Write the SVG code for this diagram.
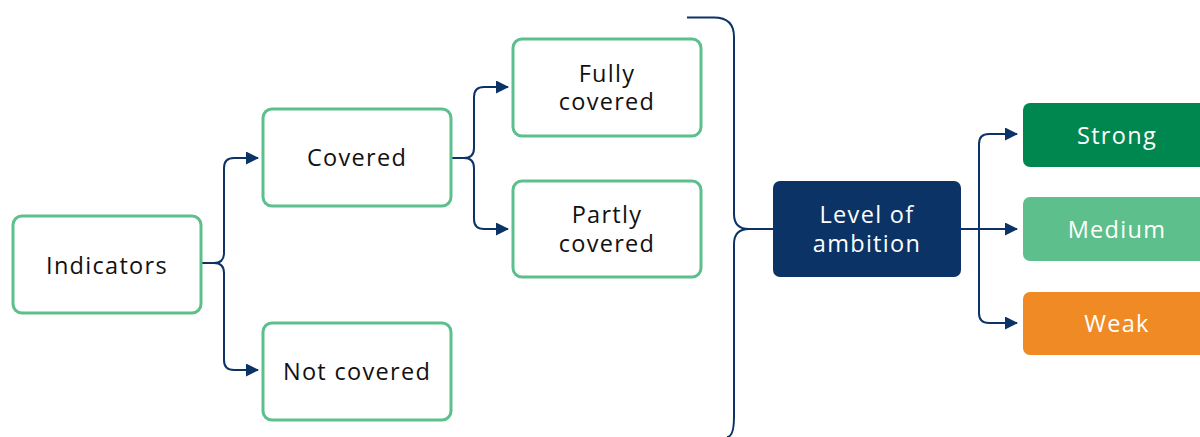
<svg xmlns="http://www.w3.org/2000/svg" width="1200" height="437" viewBox="0 0 1200 437">
<defs>
<marker id="arr" markerWidth="13" markerHeight="13" refX="12" refY="6.5" orient="auto" markerUnits="userSpaceOnUse">
<path d="M0,0 L13,6.5 L0,13 Z" fill="#0b3366"/>
</marker>
<style>
.box{fill:#fff;stroke:#5dbf8c;stroke-width:3}
.t{font-family:"Open Sans","Liberation Sans",sans-serif;font-size:23.5px;fill:#111;text-anchor:middle;letter-spacing:1.3px}
.w{fill:#fff}
.c{fill:none;stroke:#0b3366;stroke-width:2}
</style>
</defs>
<rect width="1200" height="437" fill="#fff"/>
<g id="connectors">
<path class="c" d="M201,263 H214 Q224,263 224,253 V168 Q224,158 234,158 H258" marker-end="url(#arr)"/>
<path class="c" d="M214,263 Q224,263 224,273 V360 Q224,370 234,370 H258" marker-end="url(#arr)"/>
<path class="c" d="M451,158 H464 Q474,158 474,148 V97 Q474,87 484,87 H508" marker-end="url(#arr)"/>
<path class="c" d="M464,158 Q474,158 474,168 V219 Q474,229 484,229 H508" marker-end="url(#arr)"/>
<path class="c" d="M687,17.5 H714 Q734,17.5 734,37 V214 Q734,229 749,229 H773"/>
<path class="c" d="M749,229 Q734,229 734,244 V417 Q734,437 727,437"/>
<path class="c" d="M961,229 H1017" marker-end="url(#arr)"/>
<path class="c" d="M1017,134 H989 Q979,134 979,144 V313 Q979,323 989,323 H1017" marker-end="url(#arr)"/>
<path class="c" d="M989,134 H1017" marker-end="url(#arr)"/>
</g>
<g id="indicators"><rect class="box" x="13" y="216" width="188" height="97" rx="9"/><text class="t" x="107" y="274">Indicators</text></g>
<g id="covered"><rect class="box" x="263" y="109" width="188" height="97" rx="9"/><text class="t" x="357" y="166">Covered</text></g>
<g id="not-covered"><rect class="box" x="263" y="323" width="188" height="97" rx="9"/><text class="t" x="357" y="380">Not covered</text></g>
<g id="fully-covered"><rect class="box" x="513" y="39" width="188" height="97" rx="9"/><text class="t" x="607" y="82">Fully</text><text class="t" x="607" y="110">covered</text></g>
<g id="partly-covered"><rect class="box" x="513" y="181" width="188" height="96" rx="9"/><text class="t" x="607" y="223">Partly</text><text class="t" x="607" y="252">covered</text></g>
<g id="level-of-ambition"><rect x="773" y="181" width="188" height="96" rx="7" fill="#0b3366"/><text class="t w" x="867" y="223">Level of</text><text class="t w" x="867" y="252">ambition</text></g>
<g id="strong"><rect x="1023" y="103" width="190" height="64" rx="7" fill="#00874f"/><text class="t w" x="1117" y="144">Strong</text></g>
<g id="medium"><rect x="1023" y="197" width="190" height="64" rx="7" fill="#5dbf8c"/><text class="t w" x="1117" y="238">Medium</text></g>
<g id="weak"><rect x="1023" y="292" width="190" height="63" rx="7" fill="#f08a24"/><text class="t w" x="1117" y="332">Weak</text></g>
</svg>
